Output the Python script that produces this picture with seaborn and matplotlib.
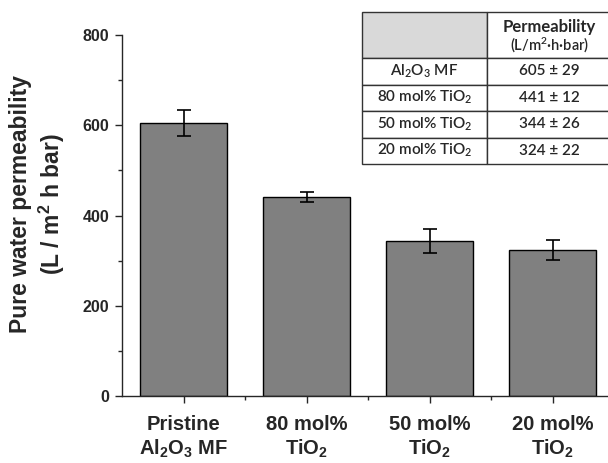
import numpy as np
import pandas as pd
import seaborn as sns
import matplotlib.pyplot as plt

# data
labels = ["Pristine\nAl$_2$O$_3$ MF", "80 mol%\nTiO$_2$", "50 mol%\nTiO$_2$", "20 mol%\nTiO$_2$"]
permeability = [605, 441, 344, 324]
errors = [29, 12, 26, 22]
table_rows = ["Al$_2$O$_3$ MF", "80 mol% TiO$_2$", "50 mol% TiO$_2$", "20 mol% TiO$_2$"]

sns.set_style("ticks")
plt.rcParams["font.family"] = ["Liberation Sans", "DejaVu Sans"]
plt.rcParams["mathtext.default"] = "regular"

df = pd.DataFrame({"sample": labels, "perm": permeability})

fig = plt.figure(figsize=(6.08, 4.63), dpi=100)
ax = fig.add_axes([122 / 608, 1 - 396 / 463, (614 - 122) / 608, (396 - 35) / 463])

sns.barplot(data=df, x="sample", y="perm", color="#808080", saturation=1,
            edgecolor="black", linewidth=1, width=0.7, ax=ax)
ax.errorbar(np.arange(len(permeability)), permeability, yerr=errors, fmt="none",
            ecolor="black", elinewidth=1.2, capsize=4.8, capthick=1.2)

ax.set_ylim(0, 800)
ax.set_xlim(-0.5, 3.5)
ax.set_yticks([0, 200, 400, 600, 800])
ax.set_yticks([100, 300, 500, 700], minor=True)
ax.set_xticks([0.5, 1.5, 2.5], minor=True)
ax.tick_params(axis="both", which="major", length=5, width=1, direction="out")
ax.tick_params(axis="both", which="minor", length=3, width=1, direction="out")
ax.tick_params(axis="y", labelsize=11.5, pad=4)
ax.tick_params(axis="x", labelsize=14.5, pad=9)
for t in ax.get_yticklabels() + ax.get_xticklabels():
    t.set_fontweight("bold")
for t in ax.get_xticklabels():
    t.set_linespacing(1.2)
ax.set_xlabel("")
ax.set_ylabel("Pure water permeability\n(L / m$^2$ h bar)", fontsize=16.5,
              fontweight="bold")
ax.yaxis.set_label_coords(-0.112, 0.532)
sns.despine(ax=ax)
for s in ["left", "bottom"]:
    ax.spines[s].set_linewidth(1)

# inset table
tl, tr, tt, tb = 362, 612, 12, 164
tax = fig.add_axes([tl / 608, 1 - tb / 463, (tr - tl) / 608, (tb - tt) / 463])
tax.axis("off")
cell_text = [["", ""]] + [[r, f"{v} \u00b1 {e}"] for r, v, e in zip(table_rows, permeability, errors)]
tbl = tax.table(cellText=cell_text, cellLoc="center", bbox=[0, 0, 1, 1])
tbl.auto_set_font_size(False)
for (r, c), cell in tbl.get_celld().items():
    cell.set_linewidth(1)
    cell.set_edgecolor("#333333")
    cell.set_height(46 if r == 0 else 26.5)
    cell.set_width(0.5)
    cell.get_text().set_fontsize(11)
    cell.get_text().set_fontweight("semibold")
    cell.get_text().set_fontfamily(["Lato", "DejaVu Sans"])
    if r == 0 and c == 0:
        cell.set_facecolor("#d9d9d9")
hfrac = 46 / (tb - tt)
tax.text(0.75, 1 - hfrac * 0.33, "Permeability", ha="center", va="center",
         fontsize=12, fontweight="bold", family=["Lato", "DejaVu Sans"])
tax.text(0.75, 1 - hfrac * 0.72, "(L/m$^2$\u00b7h\u00b7bar)", ha="center", va="center",
         fontsize=10.5, fontweight="semibold", family=["Lato", "DejaVu Sans"])

fig.savefig("out.png", dpi=100)
